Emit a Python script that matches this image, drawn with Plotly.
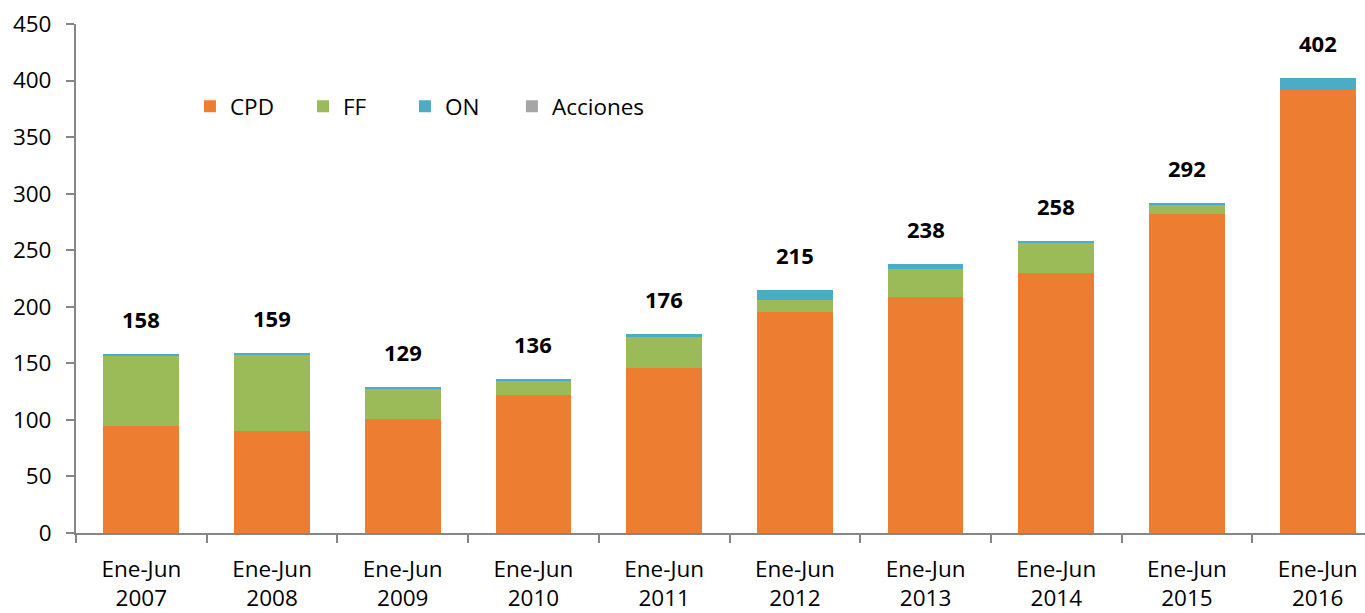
import plotly.graph_objects as go

categories = ["Ene-Jun<br>2007", "Ene-Jun<br>2008", "Ene-Jun<br>2009", "Ene-Jun<br>2010",
              "Ene-Jun<br>2011", "Ene-Jun<br>2012", "Ene-Jun<br>2013", "Ene-Jun<br>2014",
              "Ene-Jun<br>2015", "Ene-Jun<br>2016"]
cpd = [95, 90, 101, 122, 146, 195, 209, 230, 282, 392]
ff = [61.5, 67, 26, 12.5, 27, 11, 24.5, 26.5, 8.5, 0]
on = [1.5, 2, 2, 1.5, 3, 9, 4.5, 1.5, 1.5, 10]
acciones = [0, 0, 0, 0, 0, 0, 0, 0, 0, 0]
totals = [158, 159, 129, 136, 176, 215, 238, 258, 292, 402]
y_ticks = [0, 50, 100, 150, 200, 250, 300, 350, 400, 450]

FONT = "'Open Sans', sans-serif"
FS = 22.5

fig = go.Figure()
series = [("CPD", cpd, "#ED7D31", "legend", 0.0884),
          ("FF", ff, "#9BBB59", "legend2", 0.1761),
          ("ON", on, "#4BACC6", "legend3", 0.2552),
          ("Acciones", acciones, "#A5A5A5", "legend4", 0.3382)]
legends = {}
for name, vals, col, lg, lx in series:
    fig.add_trace(go.Bar(x=categories, y=vals, name=name, legend=lg,
                         marker=dict(color=col, line=dict(width=0)), width=0.58))
    legends[lg] = dict(orientation="h", x=lx, y=0.8376, xanchor="left", yanchor="middle",
                       font=dict(family=FONT, size=FS, color="#000000"),
                       bgcolor="rgba(0,0,0,0)", itemwidth=30)

for c, t in zip(categories, totals):
    fig.add_annotation(x=c, y=t, text=f"<b>{t}</b>", showarrow=False, yanchor="bottom",
                       yshift=18, font=dict(family=FONT, size=22, color="#000000"))

fig.update_layout(
    barmode="stack",
    width=1365, height=613,
    margin=dict(l=76, r=0, t=24, b=78),
    plot_bgcolor="white", paper_bgcolor="white",
    font=dict(family=FONT, size=FS, color="#000000"),
    showlegend=True,
    **legends,
)
fig.update_xaxes(range=[-0.5, 9.362], showline=True, linecolor="#868686", linewidth=2,
                 ticks="outside", tickson="boundaries", ticklen=8, tickcolor="#868686",
                 tickwidth=2, tickfont=dict(family=FONT, size=FS, color="#000000"),
                 showgrid=False, zeroline=False, ticklabelstandoff=15)
fig.update_yaxes(range=[0, 450], tickvals=y_ticks, showline=True, linecolor="#868686", linewidth=2,
                 ticks="outside", ticklen=8, tickcolor="#868686", tickwidth=2,
                 tickfont=dict(family=FONT, size=FS, color="#000000"),
                 showgrid=False, zeroline=False, ticklabelstandoff=10)

fig.write_html("out.html")
